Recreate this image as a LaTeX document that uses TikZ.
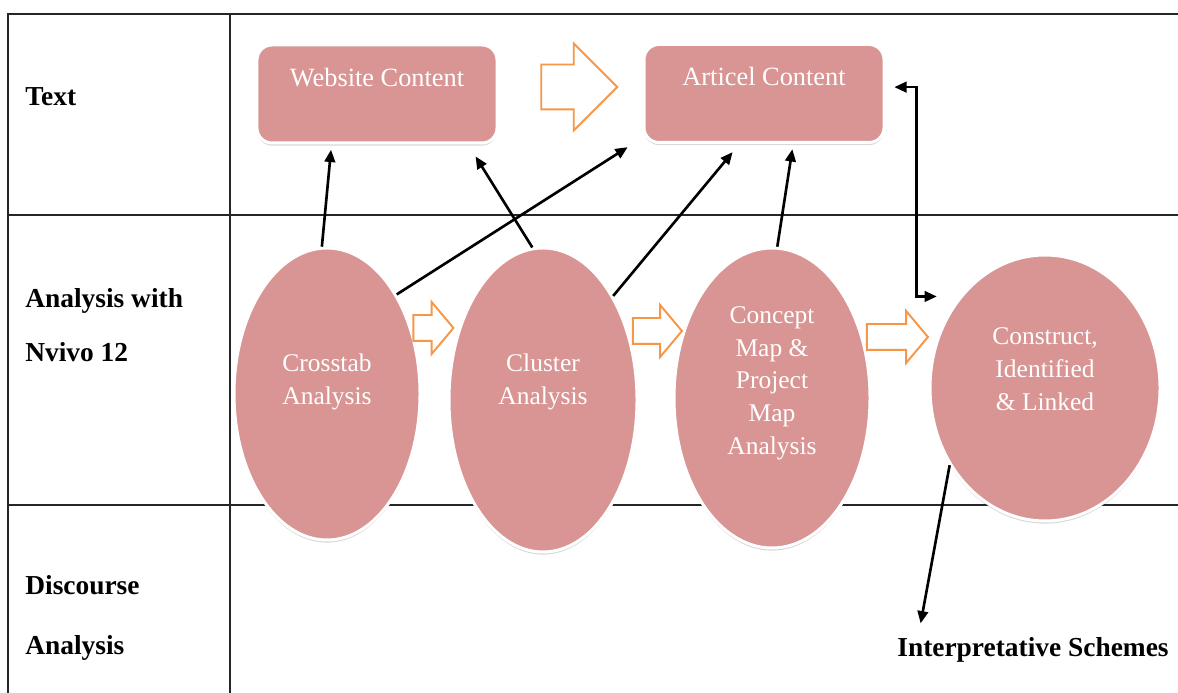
\documentclass[tikz,border=0pt]{standalone}
\usepackage{fontspec}
\setmainfont{Liberation Serif}
\usetikzlibrary{shapes.geometric,shapes.arrows,shadows,arrows.meta}
\definecolor{boxpink}{HTML}{D99594}
\definecolor{flowline}{HTML}{F79646}
\begin{document}
\begin{tikzpicture}[
		rowlabel/.style={anchor=west, align=left, inner sep=0pt, font=\bfseries\fontsize{15.6}{30.6}\selectfont},
		card/.style={rounded corners=0.3cm, fill=boxpink, draw=white, line width=1.7pt,
			drop shadow={opacity=0.3, shadow xshift=0pt, shadow yshift=-1.5pt},
			minimum width=4.8cm, inner sep=0pt, text height=0.83cm, text depth=1.13cm,
			text=white, font=\fontsize{15}{18}\selectfont},
		blob/.style={ellipse, fill=boxpink, draw=white, line width=1.7pt,
			drop shadow={opacity=0.3, shadow xshift=0pt, shadow yshift=-1.5pt},
			inner sep=0pt, align=center, text=white, font=\fontsize{14.5}{18.7}\selectfont},
		hollow/.style={single arrow, draw=flowline, fill=white, line width=1.1pt, inner sep=0pt,
			text height=0.24cm, text depth=0.24cm, single arrow head extend=0.26cm,
			single arrow tip angle=100},
		link/.style={line width=1.5pt, -{Triangle[length=7pt,width=6pt]}, shorten >=3pt}
	]
		\useasboundingbox (0,0) rectangle (23.56,13.86);

		% table
		\draw[line width=1pt, black!85] (0.16,0) -- (0.16,13.58) -- (23.56,13.58);
		\draw[line width=1pt, black!85] (4.6,0) -- (4.6,13.58);
		\draw[line width=1pt, black!85] (0.16,9.56) -- (23.56,9.56);
		\draw[line width=1pt, black!85] (0.16,3.76) -- (23.56,3.76);

		\node[rowlabel] (ltext) at (0.5,11.92) {Text};
		\node[rowlabel] (lnvivo) at (0.5,7.36) {Analysis with\\Nvivo 12};
		\node[rowlabel, font=\bfseries\fontsize{15.6}{34}\selectfont] (ldisc) at (0.5,1.5) {Discourse\\Analysis};

		% text sources
		\node[card] (web) at (7.54,11.98) {Website Content};
		\node[card] (art) at (15.28,11.99) {Articel Content};
		\node[hollow, minimum height=1.52cm, text height=0.43cm, text depth=0.43cm,
			single arrow head extend=0.42cm, single arrow tip angle=90] (flowtop) at (11.36,12.12) {};

		% nvivo steps
		\node[blob, minimum width=3.72cm, minimum height=5.84cm, text depth=0.6cm] (cross) at (6.54,5.98) {Crosstab\\Analysis};
		\node[blob, minimum width=3.76cm, minimum height=6.08cm, text depth=0.85cm] (clus) at (10.86,5.86) {Cluster\\Analysis};
		\node[blob, minimum width=3.92cm, minimum height=6cm, text depth=0.7cm] (con) at (15.44,5.9) {Concept\\Map \&\\Project\\Map\\Analysis};
		\node[blob, minimum width=4.6cm, minimum height=5.32cm, text depth=0.75cm] (cons) at (20.9,6.1) {Construct,\\Identified\\\& Linked};

		\node[hollow, minimum height=0.8cm] (flow1) at (8.56,7.3) {};
		\node[hollow, minimum height=0.98cm] (flow2) at (13.04,7.24) {};
		\node[hollow, minimum height=1.22cm] (flow3) at (17.84,7.12) {};

		\node[anchor=west, inner sep=0pt, font=\bfseries\fontsize{15.6}{19}\selectfont] (interp) at (17.94,0.86) {Interpretative Schemes};

		% links
		\draw[link] (cross.92) -- (web.228);
		\draw[link, shorten >=8pt] (clus.94) -- (web.331);
		\draw[link, shorten >=10pt] (cross.55) -- (art.200);
		\draw[link, shorten >=6pt] (clus.56) -- (art.244);
		\draw[link] (con.88) -- (art.300);
		\draw[link, {Triangle[length=7pt,width=6pt]}-{Triangle[length=7pt,width=6pt]}, shorten <=5pt, shorten >=13pt]
			(art.3) -- ++(0.62,0) |- (cons.133);
		\draw[link, shorten >=8pt] (cons.219) -- ([xshift=12pt]interp.north west);
	\end{tikzpicture}
\end{document}
